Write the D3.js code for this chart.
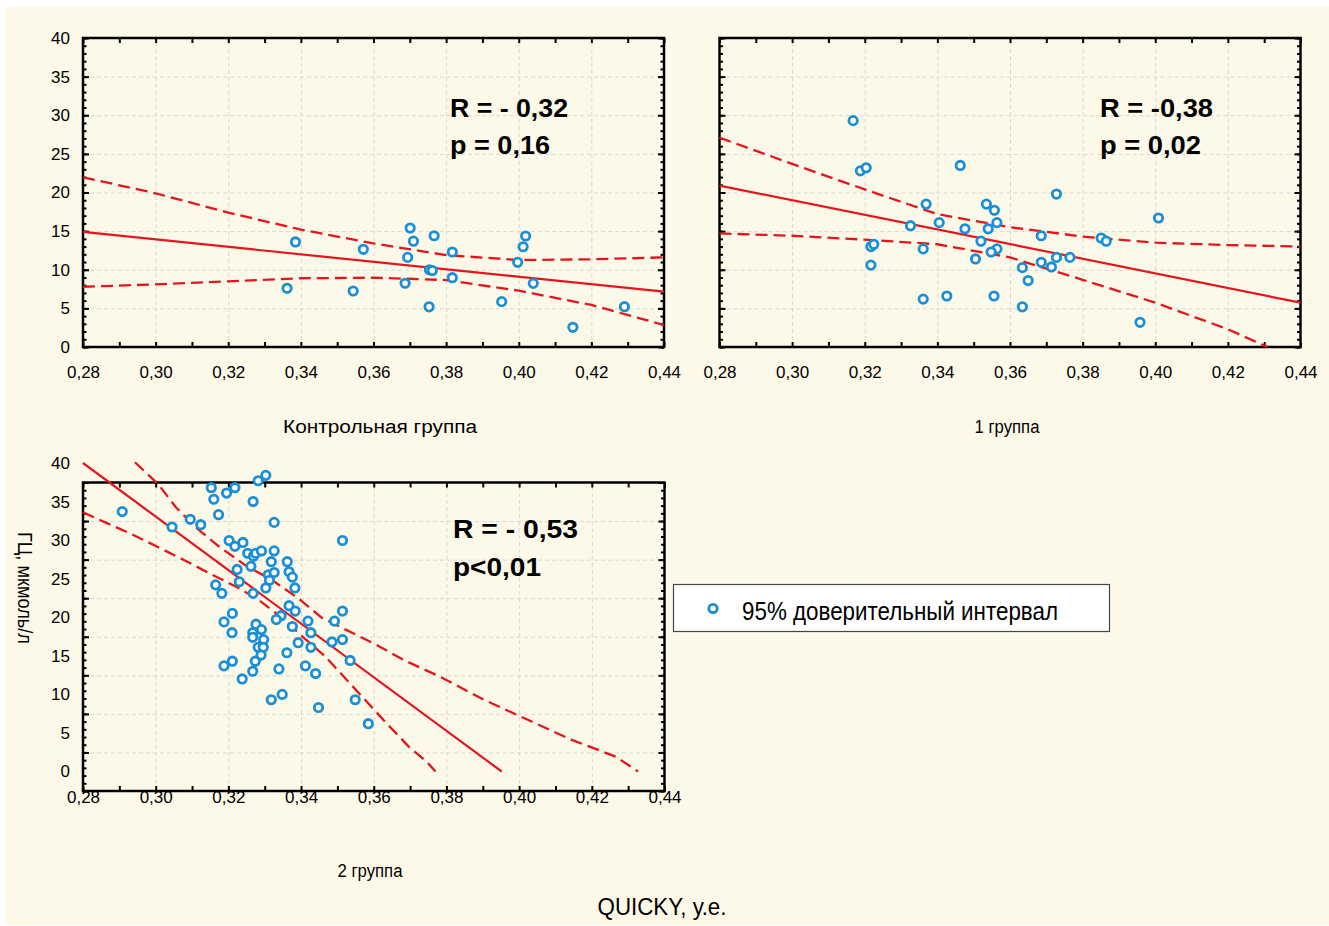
<!DOCTYPE html>
<html>
<head>
<meta charset="utf-8">
<script src="https://cdn.jsdelivr.net/npm/d3@7"></script>
<style>
body{margin:0;background:#fff;}
text{font-family:"Liberation Sans",Arial,sans-serif;}
</style>
</head>
<body>
<script>
// axis ticks
var xTicks = [0.28,0.30,0.32,0.34,0.36,0.38,0.40,0.42,0.44];
var yTicks = [0,5,10,15,20,25,30,35,40];

// Контрольная группа
var ctrlQuicky = [0.3362,0.3385,0.3544,0.3572,0.3701,0.3710,0.3694,0.3687,0.3767,0.3754,0.3762,0.3753,0.3817,0.3817,0.3953,0.3997,0.4012,0.4019,0.4040,0.4149,0.4291];
var ctrlGc = [7.6,13.6,7.25,12.65,15.4,13.7,11.6,8.25,14.4,10.0,9.9,5.2,12.3,8.97,5.87,10.96,12.98,14.37,8.24,2.55,5.22];
var ctrlFit = [[0.28,14.9],[0.44,7.16]];
var ctrlUpper = [[0.28,21.97],[0.30,19.9],[0.32,17.4],[0.34,15.2],[0.36,13.4],[0.38,11.9],[0.40,11.26],[0.42,11.35],[0.44,11.6]];
var ctrlLower = [[0.28,7.8],[0.30,8.1],[0.32,8.5],[0.34,8.9],[0.36,8.97],[0.38,8.67],[0.40,7.29],[0.42,5.44],[0.44,2.85]];

// 1 группа
var grp1Quicky = [0.3168,0.3188,0.3204,0.3463,0.3728,0.4009,0.3369,0.3535,0.3557,0.3564,0.3405,0.3326,0.3476,0.3540,0.3686,0.3851,0.3865,0.3520,0.3217,0.3225,0.3361,0.3564,0.3548,0.3505,0.3728,0.3765,0.3686,0.3714,0.3634,0.3217,0.3650,0.3361,0.3426,0.3556,0.3634,0.3958];
var grp1Gc = [29.3,22.8,23.2,23.5,19.8,16.7,18.5,18.5,17.7,16.1,16.1,15.7,15.3,15.3,14.4,14.1,13.7,13.7,13.0,13.3,12.7,12.7,12.3,11.4,11.6,11.6,10.96,10.36,10.27,10.6,8.6,6.2,6.6,6.6,5.2,3.2];
var grp1Fit = [[0.28,20.9],[0.44,5.74]];
var grp1Upper = [[0.28,27.1],[0.30,23.7],[0.32,20.4],[0.34,17.2],[0.36,15.5],[0.38,14.3],[0.40,13.5],[0.42,13.2],[0.44,13.0]];
var grp1Lower = [[0.28,14.7],[0.30,14.4],[0.32,13.9],[0.34,13.3],[0.36,11.6],[0.38,8.7],[0.40,5.74],[0.42,2.3],[0.4309,0]];

// 2 группа
var grp2Quicky = [0.2908,0.3045,0.3095,0.3124,0.3153,0.3160,0.3173,0.3195,0.3218,0.3268,0.3282,0.3303,0.3326,0.3514,0.3202,0.3218,0.3240,0.3253,0.3269,0.3275,0.3291,0.3326,0.3318,0.3262,0.3224,0.3230,0.3310,0.3326,0.3313,0.3303,0.3268,0.3165,0.3182,0.3362,0.3367,0.3376,0.3383,0.3367,0.3384,0.3345,0.3332,0.3211,0.3188,0.3210,0.3276,0.3267,0.3291,0.3267,0.3297,0.3282,0.3296,0.3290,0.3274,0.3267,0.3211,0.3188,0.3238,0.3361,0.3339,0.3318,0.3348,0.3376,0.3392,0.3419,0.3427,0.3427,0.3412,0.3440,0.3448,0.3485,0.3492,0.3514,0.3514,0.3535,0.3549,0.3585];
var grp2Gc = [33.7,31.7,32.7,32.0,36.8,35.3,33.3,36.1,36.8,35.0,37.7,38.4,32.3,29.95,29.95,29.2,29.7,28.3,27.9,28.3,28.6,28.6,27.2,26.6,26.2,24.6,25.5,25.8,24.8,23.8,23.1,24.2,23.1,27.2,25.9,25.2,23.8,21.5,20.8,20.2,19.7,20.5,19.4,18.0,19.1,18.0,18.4,17.4,17.1,16.1,16.1,15.1,14.3,13.0,14.3,13.7,12.0,15.4,13.3,9.3,10.0,18.8,16.7,19.5,18.0,16.1,13.7,12.7,8.3,16.8,19.5,20.8,17.1,14.4,9.3,6.2];
var grp2Fit = [[0.28,40],[0.3952,0]];
var grp2Upper = [[0.2943,40.1],[0.3006,37.3],[0.3055,34.3],[0.3109,31.7],[0.3176,29.1],[0.3248,26.7],[0.3321,24.8],[0.3394,22.4],[0.3455,20.0],[0.3527,18.3],[0.3600,16.6],[0.3685,14.4],[0.3782,12.3],[0.3903,9.3],[0.4024,6.7],[0.4145,4.1],[0.4267,1.9],[0.4327,0]];
var grp2Lower = [[0.28,33.6],[0.2861,32.3],[0.2933,30.8],[0.3006,29.1],[0.3079,27.4],[0.3152,25.6],[0.3224,23.9],[0.3285,22.2],[0.3345,20.0],[0.3406,17.4],[0.3467,14.9],[0.3527,11.8],[0.3576,9.3],[0.3636,6.2],[0.3697,3.2],[0.3745,1.3],[0.3770,0]];

var red = '#e3161d', blue = '#1a8fd6';

var svg = d3.select('body').append('svg').attr('width',1329).attr('height',926);
svg.append('rect').attr('x',5).attr('y',7).attr('width',1324).attr('height',918).attr('fill','#fdf9e9');

function panel(o) {
  var x = d3.scaleLinear().domain([0.28,0.44]).range([o.left,o.right]);
  var y = d3.scaleLinear().domain([0,40]).range([o.bottom,o.top]);
  // frame scale (the bottom panel's frame sits lower than its labels)
  var yf = d3.scaleLinear().domain([0,40]).range([o.bottom+o.shift,o.top+o.shift]);
  var g = svg.append('g');
  var h = yf(0)-yf(40), w = o.right-o.left;

  // grid
  g.append('g').attr('transform','translate(0,'+yf(0)+')')
    .call(d3.axisBottom(x).tickValues(xTicks.slice(1,-1)).tickSize(-h).tickFormat(''))
    .call(function(s){s.select('.domain').remove();})
    .selectAll('line').attr('stroke','#d6d6d6').attr('stroke-dasharray','4,3');
  g.append('g').attr('transform','translate('+o.left+',0)')
    .call(d3.axisLeft(yf).tickValues(yTicks.slice(1,-1)).tickSize(-w).tickFormat(''))
    .call(function(s){s.select('.domain').remove();})
    .selectAll('line').attr('stroke','#d6d6d6').attr('stroke-dasharray','4,3');

  // frame
  g.append('rect').attr('x',o.left).attr('y',yf(40)).attr('width',w).attr('height',h)
    .attr('fill','none').attr('stroke','#000').attr('stroke-width',2.5);

  // inner ticks on four sides
  var minorY = d3.range(0,41,1), minorX = d3.range(0.28,0.4451,0.01);
  function ticks(gen, tr) {
    g.append('g').attr('transform',tr).call(gen)
      .call(function(s){s.select('.domain').remove();})
      .selectAll('line').attr('stroke','#000').attr('stroke-width',2);
  }
  ticks(d3.axisLeft(yf).tickValues(minorY).tickSize(-3.5).tickFormat(''),'translate('+o.left+',0)');
  ticks(d3.axisLeft(yf).tickValues(yTicks).tickSize(-6).tickFormat(''),'translate('+o.left+',0)');
  ticks(d3.axisRight(yf).tickValues(minorY).tickSize(-3.5).tickFormat(''),'translate('+o.right+',0)');
  ticks(d3.axisRight(yf).tickValues(yTicks).tickSize(-6).tickFormat(''),'translate('+o.right+',0)');
  ticks(d3.axisBottom(x).tickValues(minorX).tickSize(-5).tickFormat(''),'translate(0,'+yf(0)+')');
  ticks(d3.axisTop(x).tickValues(minorX).tickSize(-5).tickFormat(''),'translate(0,'+yf(40)+')');

  // tick labels
  var fmt = function(d){return d3.format('.2f')(d).replace('.',',');};
  var xl = g.append('g').attr('transform','translate(0,'+y(0)+')')
    .call(d3.axisBottom(x).tickValues(xTicks).tickSize(0).tickPadding(19).tickFormat(fmt));
  xl.select('.domain').remove();
  xl.selectAll('text').attr('font-size',17).attr('fill','#000').style('font-family','"Liberation Sans",Arial,sans-serif');
  if (o.yLabels) {
    var yl = g.append('g').attr('transform','translate('+o.left+',0)')
      .call(d3.axisLeft(y).tickValues(yTicks).tickSize(0).tickPadding(13));
    yl.select('.domain').remove();
    yl.selectAll('text').attr('font-size',17).attr('fill','#000').style('font-family','"Liberation Sans",Arial,sans-serif');
  }

  // regression line and 95% bands
  var line = d3.line().x(function(d){return x(d[0]);}).y(function(d){return y(d[1]);});
  g.append('path').attr('d',line(o.fit)).attr('fill','none').attr('stroke',red).attr('stroke-width',2.2);
  [o.upper,o.lower].forEach(function(b){
    g.append('path').attr('d',line(b)).attr('fill','none').attr('stroke',red)
      .attr('stroke-width',2.3).attr('stroke-dasharray','12,6');
  });

  // points
  g.selectAll('circle.pt').data(d3.zip(o.qx,o.gc)).enter().append('circle')
    .attr('class','pt')
    .attr('cx',function(d){return x(d[0]);})
    .attr('cy',function(d){return y(d[1]);})
    .attr('r',4.2)
    .attr('fill','#fff').attr('stroke',blue).attr('stroke-width',2.8);

  // annotation
  o.notes.forEach(function(n){
    g.append('text').attr('x',n.x).attr('y',n.y).attr('font-size',26).attr('font-weight','bold')
      .attr('textLength',n.w).attr('lengthAdjust','spacingAndGlyphs').text(n.t);
  });
  g.append('text').attr('x',o.titleX).attr('y',o.titleY).attr('font-size',18)
    .attr('text-anchor','middle').attr('textLength',o.titleW).attr('lengthAdjust','spacingAndGlyphs')
    .text(o.title);
}

panel({left:83,right:664,top:38,bottom:347,shift:0,yLabels:true,
  qx:ctrlQuicky,gc:ctrlGc,fit:ctrlFit,upper:ctrlUpper,lower:ctrlLower,
  notes:[{t:'R = - 0,32',x:450,y:117,w:118},{t:'p = 0,16',x:450,y:154,w:100}],
  title:'Контрольная группа',titleX:380,titleY:433,titleW:194});
panel({left:719.5,right:1300.5,top:38,bottom:347,shift:0,yLabels:false,
  qx:grp1Quicky,gc:grp1Gc,fit:grp1Fit,upper:grp1Upper,lower:grp1Lower,
  notes:[{t:'R = -0,38',x:1100,y:117,w:113},{t:'p = 0,02',x:1100,y:154,w:101}],
  title:'1 группа',titleX:1007,titleY:433,titleW:65});
panel({left:83,right:664.5,top:463,bottom:771.5,shift:19.5,yLabels:true,
  qx:grp2Quicky,gc:grp2Gc,fit:grp2Fit,upper:grp2Upper,lower:grp2Lower,
  notes:[{t:'R = - 0,53',x:453,y:538,w:125},{t:'p<0,01',x:453,y:576,w:88}],
  title:'2 группа',titleX:370,titleY:877,titleW:65});

// axis titles
svg.append('text').attr('x',662).attr('y',915).attr('font-size',23).attr('text-anchor','middle')
  .attr('textLength',129).attr('lengthAdjust','spacingAndGlyphs').text('QUICKY, у.е.');
svg.append('text').attr('transform','translate(18,588) rotate(90)').attr('font-size',21)
  .attr('text-anchor','middle').attr('textLength',112).attr('lengthAdjust','spacingAndGlyphs')
  .text('ГЦ, мкмоль/л');

// legend
var lg = svg.append('g');
lg.append('rect').attr('x',673.5).attr('y',584.5).attr('width',436).attr('height',47)
  .attr('fill','#fff').attr('stroke','#444').attr('stroke-width',1.2);
lg.append('circle').attr('cx',713).attr('cy',608.5).attr('r',4.2)
  .attr('fill','#fff').attr('stroke',blue).attr('stroke-width',2.8);
lg.append('text').attr('x',742).attr('y',619.5).attr('font-size',26)
  .attr('textLength',316).attr('lengthAdjust','spacingAndGlyphs').text('95% доверительный интервал');
</script>
</body>
</html>
